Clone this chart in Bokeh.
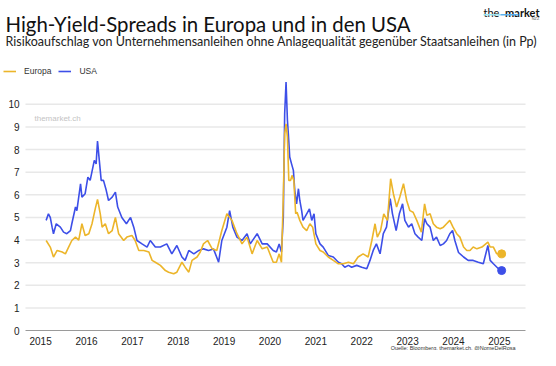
from bokeh.plotting import figure
from bokeh.models import (Label, Legend, LegendItem, FixedTicker, Range1d, ColumnDataSource,
                          BoxAnnotation)
from bokeh.embed import file_html
from bokeh.resources import INLINE

# ---- data (decimal years, spread in percentage points) ----
usa_t = [2015.12, 2015.17, 2015.21, 2015.25, 2015.28, 2015.34, 2015.43, 2015.50, 2015.57, 2015.65,
         2015.68, 2015.76, 2015.79, 2015.87, 2015.90, 2015.97, 2016.03, 2016.08, 2016.17, 2016.21,
         2016.24, 2016.28, 2016.32, 2016.37, 2016.43, 2016.48, 2016.56, 2016.63, 2016.68, 2016.77,
         2016.87, 2016.96, 2017.03, 2017.10, 2017.21, 2017.32, 2017.39, 2017.50, 2017.61, 2017.75,
         2017.86, 2017.97, 2018.08, 2018.15, 2018.23, 2018.34, 2018.45, 2018.55, 2018.66, 2018.77,
         2018.88, 2018.95, 2019.06, 2019.12, 2019.19, 2019.28, 2019.39, 2019.50, 2019.57, 2019.72,
         2019.83, 2019.94, 2020.07, 2020.14, 2020.20, 2020.25, 2020.29, 2020.32, 2020.35, 2020.38,
         2020.40, 2020.43, 2020.47, 2020.51, 2020.54, 2020.58, 2020.62, 2020.65, 2020.69, 2020.72,
         2020.80, 2020.86, 2020.91, 2020.96, 2021.00, 2021.09, 2021.16, 2021.27, 2021.38, 2021.49,
         2021.56, 2021.63, 2021.71, 2021.78, 2021.89, 2022.00, 2022.11, 2022.18, 2022.25, 2022.32,
         2022.40, 2022.47, 2022.54, 2022.62, 2022.67, 2022.75, 2022.82, 2022.89, 2022.94, 2023.02,
         2023.09, 2023.16, 2023.23, 2023.31, 2023.37, 2023.42, 2023.49, 2023.56, 2023.63, 2023.71,
         2023.78, 2023.85, 2023.92, 2023.98, 2024.03, 2024.11, 2024.22, 2024.32, 2024.43, 2024.54,
         2024.65, 2024.75, 2024.80, 2024.87, 2024.98, 2025.05]
usa_v = [4.87, 5.16, 5.00, 4.57, 4.28, 4.72, 4.57, 4.35, 4.28, 4.42,
         4.72, 5.46, 5.30, 6.49, 5.90, 6.05, 6.78, 6.64, 7.52, 7.37,
         8.38, 7.50, 6.64, 6.64, 6.20, 5.75, 5.90, 6.12, 5.46, 5.00,
         4.72, 5.00, 4.57, 3.98, 3.83, 3.69, 3.98, 3.69, 3.69, 3.83,
         3.39, 3.76, 3.25, 3.10, 3.54, 3.39, 3.54, 3.61, 3.54, 3.60,
         3.02, 3.98, 4.57, 5.30, 4.57, 4.13, 3.98, 4.28, 3.83, 4.28,
         3.83, 3.83, 3.54, 3.47, 3.83, 3.47, 5.00, 9.60, 10.99, 9.30,
         8.70, 7.67, 7.37, 7.08, 6.19, 5.60, 6.27, 5.75, 5.30, 4.87,
         5.16, 5.38, 4.87, 5.16, 4.28, 3.83, 3.69, 3.32, 3.25, 3.02,
         2.95, 2.80, 2.88, 2.80, 2.88, 2.80, 2.73, 3.10, 3.54, 3.83,
         3.39, 4.28, 4.57, 5.83, 5.16, 4.42, 5.16, 5.60, 4.87, 4.57,
         4.72, 4.28, 4.13, 3.98, 4.95, 4.72, 4.57, 3.98, 4.13, 3.76,
         3.83, 3.98, 4.28, 4.42, 3.98, 3.45, 3.25, 3.10, 3.10, 3.02,
         2.95, 3.76, 3.10, 2.95, 2.73, 2.65]

eur_t = [2015.12, 2015.21, 2015.28, 2015.36, 2015.47, 2015.54, 2015.61, 2015.68, 2015.76, 2015.83,
         2015.90, 2015.97, 2016.05, 2016.12, 2016.19, 2016.24, 2016.30, 2016.34, 2016.41, 2016.48,
         2016.56, 2016.63, 2016.70, 2016.81, 2016.88, 2016.99, 2017.06, 2017.14, 2017.25, 2017.36,
         2017.43, 2017.50, 2017.61, 2017.72, 2017.79, 2017.90, 2017.97, 2018.08, 2018.15, 2018.23,
         2018.30, 2018.41, 2018.48, 2018.55, 2018.64, 2018.74, 2018.84, 2018.95, 2019.06, 2019.17,
         2019.28, 2019.39, 2019.50, 2019.61, 2019.72, 2019.83, 2019.94, 2020.07, 2020.14, 2020.20,
         2020.25, 2020.29, 2020.32, 2020.35, 2020.38, 2020.41, 2020.45, 2020.48, 2020.52, 2020.56,
         2020.59, 2020.65, 2020.72, 2020.80, 2020.87, 2020.93, 2021.00, 2021.09, 2021.16, 2021.27,
         2021.38, 2021.49, 2021.60, 2021.71, 2021.82, 2021.92, 2022.03, 2022.14, 2022.22, 2022.29,
         2022.34, 2022.41, 2022.48, 2022.56, 2022.63, 2022.69, 2022.76, 2022.83, 2022.91, 2022.98,
         2023.05, 2023.12, 2023.20, 2023.30, 2023.37, 2023.42, 2023.49, 2023.56, 2023.63, 2023.71,
         2023.78, 2023.85, 2023.92, 2023.99, 2024.07, 2024.14, 2024.22, 2024.29, 2024.36, 2024.43,
         2024.51, 2024.62, 2024.75, 2024.80, 2024.87, 2024.94, 2025.05]
eur_v = [3.98, 3.69, 3.25, 3.54, 3.47, 3.39, 3.69, 3.98, 4.13, 4.00,
         4.72, 4.20, 4.28, 4.72, 5.38, 5.80, 5.16, 4.57, 4.72, 4.28,
         4.42, 5.00, 4.28, 3.98, 4.13, 4.20, 3.98, 3.54, 3.54, 3.47,
         3.10, 3.02, 2.88, 2.65, 2.58, 2.51, 2.58, 3.02, 2.80, 2.58,
         3.10, 3.25, 3.47, 3.83, 3.98, 3.61, 3.54, 4.42, 5.16, 4.87,
         4.28, 3.83, 4.13, 3.39, 3.98, 3.61, 3.69, 3.02, 3.02, 3.39,
         3.02, 5.90, 8.70, 9.14, 8.55, 6.64, 6.64, 6.86, 6.64, 5.16,
         5.23, 4.87, 4.57, 4.42, 4.72, 4.57, 3.83, 3.54, 3.47, 3.25,
         3.10, 2.95, 2.95, 3.02, 2.95, 3.25, 3.39, 3.25, 3.98, 4.72,
         4.13, 4.42, 5.16, 4.87, 6.71, 6.05, 5.46, 5.90, 6.49, 5.75,
         5.30, 5.23, 4.87, 4.35, 5.60, 5.09, 5.16, 4.72, 4.57, 4.50,
         4.57, 4.72, 4.87, 4.57, 4.28, 4.13, 3.69, 3.54, 3.54, 3.69,
         3.61, 3.69, 3.91, 3.69, 3.69, 3.40, 3.39]

year_ticks = [2015, 2016, 2017, 2018, 2019, 2020, 2021, 2022, 2023, 2024, 2025]
year_labels = ["2015", "2016", "2017", "2018", "2019", "2020", "2021", "2022", "2023", "2024", "2025"]
value_ticks = [0, 1, 2, 3, 4, 5, 6, 7, 8, 9, 10]

EUR_COLOR = "#ECB52A"
USA_COLOR = "#3D4FE8"
TITLE_FONT = "Lato"
AXIS_FONT = "Liberation Sans"

# ---- layout geometry (canvas = frame, 540 x 350 px) ----
W, H = 540, 350
AX_START, AX_END = 2014.67, 2025.57          # extent of the chart area (years)
PLOT_L, PLOT_R = 25, 525                     # chart area in px from the left
PLOT_TOP, PLOT_BOTTOM = 79, 330              # chart area in px from the top
Y_TOP = 11.1                                 # value at PLOT_TOP
px_per_year = (PLOT_R - PLOT_L) / (AX_END - AX_START)
px_per_unit = (PLOT_BOTTOM - PLOT_TOP) / Y_TOP
x_range = Range1d(AX_START - PLOT_L / px_per_year, AX_END + (W - PLOT_R) / px_per_year)
y_range = Range1d(-(H - PLOT_BOTTOM) / px_per_unit, PLOT_BOTTOM / px_per_unit)

p = figure(width=W, height=H, output_backend="svg", toolbar_location=None,
           x_range=x_range, y_range=y_range,
           min_border_left=0, min_border_right=0, min_border_top=0, min_border_bottom=0)
p.outline_line_color = None
p.xgrid.visible = False
p.ygrid.visible = False

# horizontal grid lines over the chart area only
grid_vals = value_ticks[1:]
p.segment(x0=[AX_START] * len(grid_vals), x1=[AX_END] * len(grid_vals),
          y0=grid_vals, y1=grid_vals, line_color="#e8e8e8", line_width=1.5)

usa_src = ColumnDataSource(dict(t=usa_t, v=usa_v))
eur_src = ColumnDataSource(dict(t=eur_t, v=eur_v))
r_usa = p.line("t", "v", source=usa_src, color=USA_COLOR, line_width=1.6)
r_eur = p.line("t", "v", source=eur_src, color=EUR_COLOR, line_width=1.6)
p.scatter(x=[usa_t[-1]], y=[usa_v[-1]], size=8, color=USA_COLOR)
p.scatter(x=[eur_t[-1]], y=[eur_v[-1]], size=8, color=EUR_COLOR)

# axes fixed inside the canvas
xa = p.xaxis[0]
xa.fixed_location = 0
xa.bounds = (AX_START, AX_END)
xa.ticker = FixedTicker(ticks=year_ticks)
xa.major_label_overrides = {t: l for t, l in zip(year_ticks, year_labels)}
xa.axis_line_color = "#9a9a9a"
xa.major_tick_line_color = None
xa.minor_tick_line_color = None
xa.major_tick_out = 0
xa.major_tick_in = 0
xa.major_label_standoff = 6
xa.major_label_text_font = AXIS_FONT
xa.major_label_text_font_size = "10px"
xa.major_label_text_color = "#222222"

ya = p.yaxis[0]
ya.fixed_location = AX_START
ya.ticker = FixedTicker(ticks=value_ticks)
ya.axis_line_color = None
ya.major_tick_line_color = None
ya.minor_tick_line_color = None
ya.major_tick_out = 0
ya.major_tick_in = 0
ya.major_label_standoff = 6
ya.major_label_text_font = AXIS_FONT
ya.major_label_text_font_size = "10px"
ya.major_label_text_color = "#222222"


def lab(x, y_from_top, text, **kw):
    """Label in screen px; y given from the top of the canvas (baseline)."""
    p.add_layout(Label(x=x, y=H - y_from_top, x_units="screen", y_units="screen", text=text,
                       text_baseline="alphabetic", **kw))


lab(5, 23.3, "High-Yield-Spreads in Europa und in den USA",
    text_font=TITLE_FONT, text_font_size="20.4px", text_color="#111111")
lab(5, 41, "Risikoaufschlag von Unternehmensanleihen ohne Anlagequalität gegenüber Staatsanleihen (in Pp)",
    text_font=TITLE_FONT, text_font_size="12.5px", text_color="#222222")

# logo
lab(483, 11.5, "the", text_font=TITLE_FONT, text_font_size="11px", text_color="#111111")
lab(539, 11.5, "market", text_align="right", text_font=TITLE_FONT, text_font_style="bold",
    text_font_size="11px", text_color="#111111")
for l, r, c in [(483, 500, "#9ce6f2"), (500, 518, "#5ab0ee")]:
    p.add_layout(BoxAnnotation(left=l, right=r, top=H - 13.5, bottom=H - 15,
                               left_units="screen", right_units="screen",
                               top_units="screen", bottom_units="screen",
                               fill_color=c, fill_alpha=1, line_color=None))
lab(539, 18, "NZZ", text_align="right", text_font=AXIS_FONT, text_font_size="4px",
    text_color="#555555")

# watermark & source
lab(34, 118, "themarket.ch", text_font=AXIS_FONT, text_font_size="8px", text_color="#c4c4c4")
lab(515, 347.5, "Quelle: Bloomberg, themarket.ch, @NomeDelRosa", text_align="right",
    text_font=AXIS_FONT, text_font_size="5.5px", text_color="#333333")

# legend
legend = Legend(items=[LegendItem(label="Europa", renderers=[r_eur]),
                       LegendItem(label="USA", renderers=[r_usa])],
                orientation="horizontal", location=(3, H - 75.5),
                glyph_width=13, glyph_height=8, label_standoff=8, spacing=7,
                padding=0, margin=0, border_line_color=None, background_fill_alpha=0,
                label_text_font=AXIS_FONT, label_text_font_size="8.5px",
                label_text_color="#333333", label_height=9, label_text_baseline="middle")
p.add_layout(legend, "center")

open("out.html", "w").write(file_html(p, INLINE))
